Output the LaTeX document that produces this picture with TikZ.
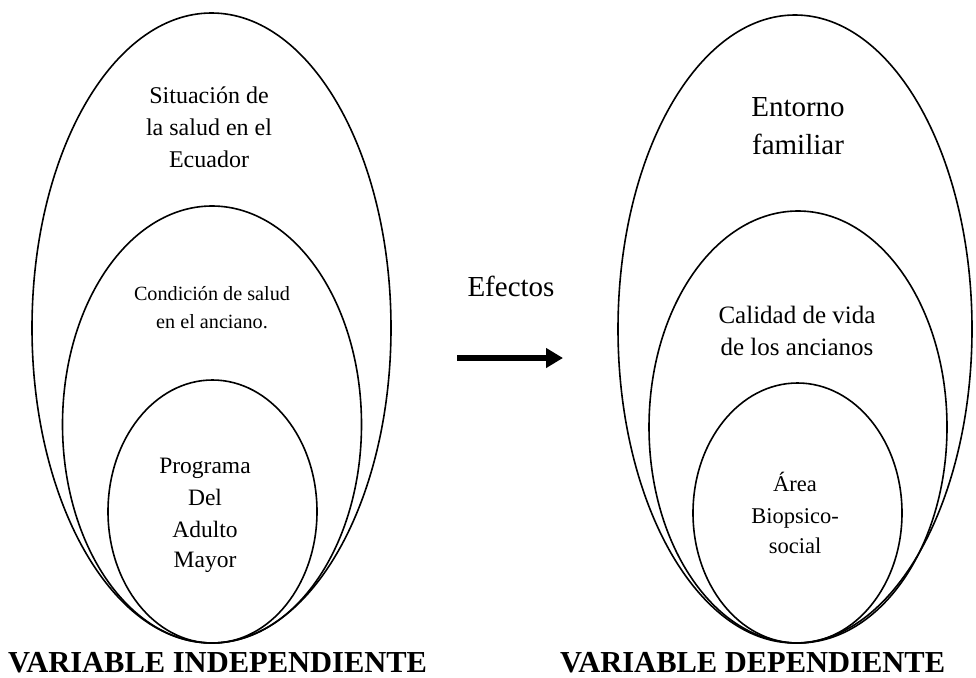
\documentclass[tikz,border=0pt]{standalone}
\usepackage{fontspec}
\setmainfont{Liberation Serif}
\usetikzlibrary{shapes.geometric,arrows.meta}
\tikzset{
  oval/.style={draw=black, line width=1.6pt, ellipse, inner sep=0pt, outer sep=0pt},
  txt/.style={anchor=base, inner sep=0pt},
  biglabel/.style={anchor=base west, inner sep=0pt, font=\fontsize{30.5}{36}\selectfont\bfseries},
}
\begin{document}
\begin{tikzpicture}[x=1pt,y=-1pt]
\useasboundingbox (0,0) rectangle (976,677);
% left ellipses
\node[oval, minimum width=359pt, minimum height=630pt] (LA) at (211.5,328) {};
\node[oval, minimum width=299pt, minimum height=437pt] (LB) at (212,424.5) {};
\node[oval, minimum width=209pt, minimum height=263pt] (LC) at (212.5,511.5) {};
% right ellipses
\node[oval, minimum width=354pt, minimum height=628pt] (RA) at (795,329) {};
\node[oval, minimum width=298pt, minimum height=432pt] (RB) at (798,427) {};
\node[oval, minimum width=209pt, minimum height=260pt] (RC) at (797.5,513) {};
% left texts
\begin{scope}[every node/.append style={font=\fontsize{24}{28}\selectfont}]
\node[txt] (la1) at (209,103) {Situación de};
\node[txt] (la2) at (209,135) {la salud en el};
\node[txt] (la3) at (209,167) {Ecuador};
\end{scope}
\begin{scope}[every node/.append style={font=\fontsize{20.2}{24}\selectfont}]
\node[txt] (lb1) at (212,300) {Condición de salud};
\node[txt] (lb2) at (212,328) {en el anciano.};
\end{scope}
\begin{scope}[every node/.append style={font=\fontsize{23.5}{28}\selectfont}]
\node[txt] (lc1) at (205,473) {Programa};
\node[txt] (lc2) at (205,505) {Del};
\node[txt] (lc3) at (205,537) {Adulto};
\node[txt] (lc4) at (205,567) {Mayor};
\end{scope}
% right texts
\begin{scope}[every node/.append style={font=\fontsize{29}{34}\selectfont}]
\node[txt] (ra1) at (798,116) {Entorno};
\node[txt] (ra2) at (798,154) {familiar};
\end{scope}
\begin{scope}[every node/.append style={font=\fontsize{25}{30}\selectfont}]
\node[txt] (rb1) at (797,323) {Calidad de vida};
\node[txt] (rb2) at (797,355) {de los ancianos};
\end{scope}
\begin{scope}[every node/.append style={font=\fontsize{22.5}{27}\selectfont}]
\node[txt] (rc1) at (795,491) {Área};
\node[txt] (rc2) at (795,523) {Biopsico-};
\node[txt] (rc3) at (795,553) {social};
\end{scope}
% middle
\node[txt, font=\fontsize{29}{34}\selectfont] (ef) at (511,296) {Efectos};
\coordinate (a0) at (457,358);
\coordinate (a1) at (563,358);
\draw[line width=6pt, -{Triangle[length=17pt,width=19pt]}] (a0) -- (a1);
% bottom labels
\node[biglabel] (vi) at (8,672) {VARIABLE INDEPENDIENTE};
\node[biglabel] (vd) at (560,672) {VARIABLE DEPENDIENTE};
\end{tikzpicture}
\end{document}
